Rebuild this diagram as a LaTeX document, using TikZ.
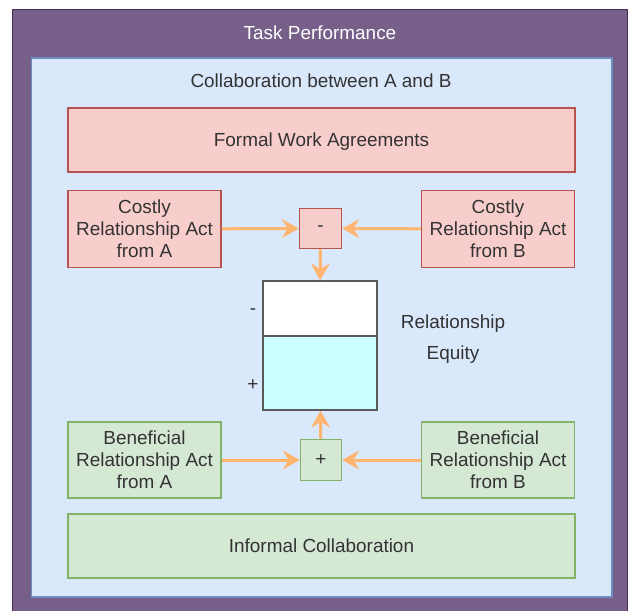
\documentclass[tikz,border=0pt]{standalone}
\usepackage{fontspec}
\setmainfont{Liberation Sans}
\usepackage{tikz}
\usetikzlibrary{arrows.meta}

\definecolor{purplefill}{RGB}{118,96,138}
\definecolor{purpleline}{RGB}{67,45,87}
\definecolor{bluefill}{RGB}{218,232,252}
\definecolor{blueline}{RGB}{108,142,191}
\definecolor{redfill}{RGB}{248,206,204}
\definecolor{redline}{RGB}{184,84,80}
\definecolor{greenfill}{RGB}{213,232,212}
\definecolor{greenline}{RGB}{130,179,102}
\definecolor{cyanfill}{RGB}{204,255,255}
\definecolor{greyline}{RGB}{90,90,90}
\definecolor{textgrey}{RGB}{51,51,51}
\definecolor{flow}{RGB}{255,181,112}

\begin{document}
\begin{tikzpicture}[x=1bp, y=-1bp,
  every node/.style={font=\fontsize{19}{22}\selectfont, text=textgrey, inner sep=0pt, align=center, text depth=0pt},
  redbox/.style={draw=redline, fill=redfill, line width=1.5bp},
  greenbox/.style={draw=greenline, fill=greenfill, line width=1.5bp},
  eqbox/.style={draw=greyline, line width=1.5bp, minimum width=114bp},
  flowarrow/.style={draw=flow, line width=3bp, -{Stealth[length=17bp, width=19bp, inset=6bp]}}]

\useasboundingbox (0,0) rectangle (628,611);

% frames
\draw[fill=purplefill, draw=purpleline, line width=1.5bp] (12.5,9.5) rectangle (627.5,620);
\draw[fill=bluefill, draw=blueline, line width=1.5bp] (31.5,58) rectangle (612,597);

\node[text=white] (task) at (320,33) {Task Performance};
\node (collab) at (321,81) {Collaboration between A and B};

\node[redbox, minimum width=507bp, minimum height=64bp] (formal) at (321.5,140) {Formal Work Agreements};
\node[redbox, minimum width=153bp, minimum height=77bp] (costlyA) at (144.5,229) {Costly\\Relationship Act\\from A};
\node[redbox, minimum width=153bp, minimum height=77bp] (costlyB) at (498,229) {Costly\\Relationship Act\\from B};
\node[redbox, minimum width=42bp, minimum height=40bp] (minus) at (320.5,228.5) {-};

\node[eqbox, fill=white, minimum height=55bp] (eqneg) at (320,308.5) {};
\node[eqbox, fill=cyanfill, minimum height=74bp] (eqpos) at (320,373) {};
\node (neglabel) at (253,312) {-};
\node (poslabel) at (253,385) {+};
\node (equity) at (453,337) {Relationship\\[9bp]Equity};

\node[greenbox, minimum width=153bp, minimum height=76bp] (beneA) at (144.5,460) {Beneficial\\Relationship Act\\from A};
\node[greenbox, minimum width=153bp, minimum height=76bp] (beneB) at (498,460) {Beneficial\\Relationship Act\\from B};
\node[greenbox, minimum width=41bp, minimum height=41bp] (plus) at (321,460) {+};
\node[greenbox, minimum width=507bp, minimum height=64bp] (informal) at (321.5,546) {Informal Collaboration};

\draw[flowarrow] (costlyA) -- (minus);
\draw[flowarrow] (costlyB) -- (minus);
\draw[flowarrow] (minus) -- (eqneg);
\draw[flowarrow] (beneA) -- (plus);
\draw[flowarrow] (beneB) -- (plus);
\draw[flowarrow] (plus) -- (eqpos);

\end{tikzpicture}
\end{document}
